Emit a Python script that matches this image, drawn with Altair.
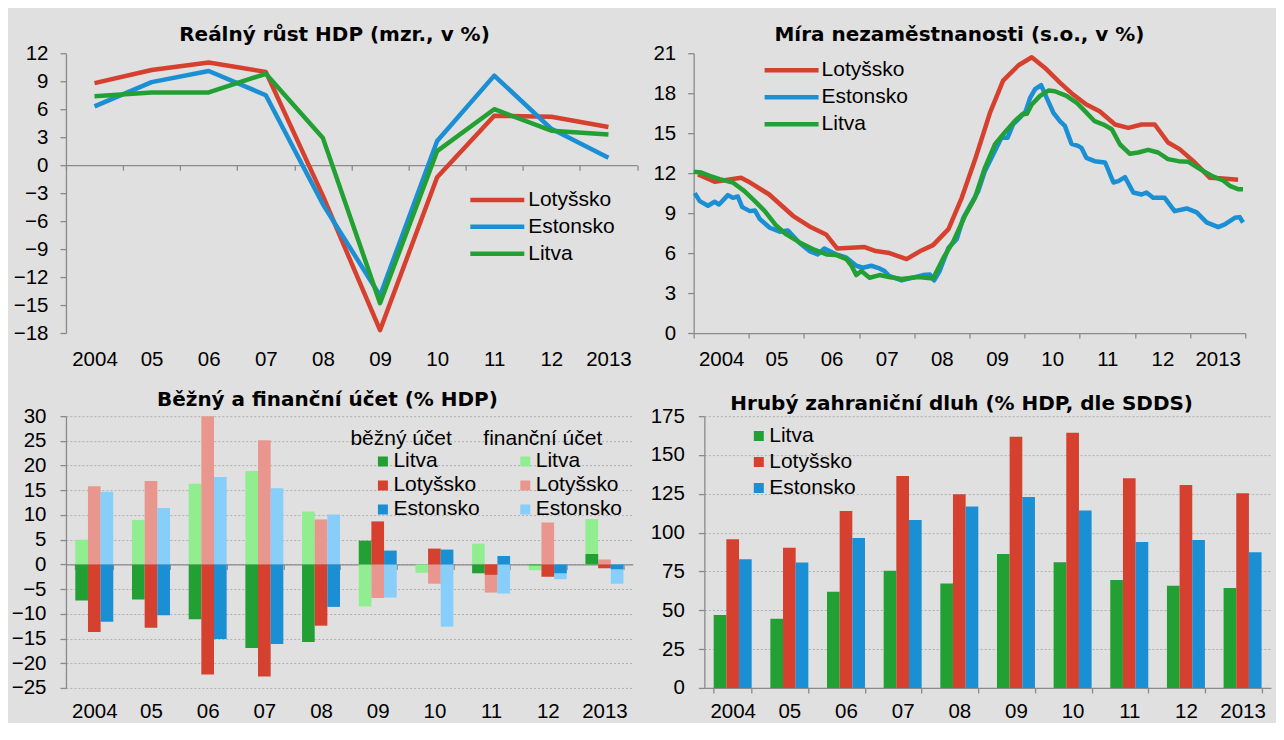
import altair as alt
import pandas as pd

FONT = "Liberation Sans"
TITLE_FONT = "DejaVu Sans"
BG = "#e0e0e0"
AXIS_GRAY = "#8a8a8a"
GRID_GRAY = "#b0b0b0"
LABEL_SIZE = 20.5
LEGEND_SIZE = 21

years = ["2004", "05", "06", "07", "08", "09", "10", "11", "12", "2013"]
line_countries = ["Lotyšsko", "Estonsko", "Litva"]
bar_countries = ["Litva", "Lotyšsko", "Estonsko"]
dark_colors = {"Lotyšsko": "#d5402f", "Estonsko": "#1b8fd4", "Litva": "#22a034"}
light_colors = {"Litva": "#90ee90", "Lotyšsko": "#e9968f", "Estonsko": "#87cefa"}

# --- Reálný růst HDP ---
gdp_lotyssko = [8.8, 10.2, 11.0, 10.0, -3.3, -17.7, -1.3, 5.3, 5.2, 4.1]
gdp_estonsko = [6.3, 8.9, 10.1, 7.5, -4.2, -14.0, 2.6, 9.6, 3.9, 0.8]
gdp_litva = [7.4, 7.8, 7.8, 9.8, 2.9, -14.8, 1.5, 6.0, 3.7, 3.3]

# --- Míra nezaměstnanosti (time in decimal years) ---
une_lotyssko_t = [2004.08, 2004.38, 2004.86, 2004.98, 2005.37, 2005.80, 2006.10, 2006.40, 2006.60,
                  2007.10, 2007.30, 2007.55, 2007.86, 2008.13, 2008.34, 2008.62, 2008.86, 2009.10,
                  2009.37, 2009.61, 2009.89, 2010.13, 2010.37, 2010.64, 2010.85, 2011.12, 2011.36,
                  2011.64, 2011.88, 2012.12, 2012.36, 2012.60, 2012.81, 2013.06, 2013.36, 2013.60,
                  2013.87]
une_lotyssko = [11.9, 11.35, 11.65, 11.4, 10.4, 8.8, 8.0, 7.4, 6.35,
                6.45, 6.15, 6.0, 5.55, 6.2, 6.6, 7.8, 10.15, 13.0,
                16.5, 18.95, 20.1, 20.7, 19.9, 18.8, 18.0, 17.15, 16.65,
                15.65, 15.4, 15.65, 15.65, 14.3, 13.8, 12.9, 11.65, 11.6,
                11.5]
une_estonsko_t = [2004.02, 2004.11, 2004.26, 2004.38, 2004.46, 2004.62, 2004.71, 2004.80, 2004.88,
                  2005.02, 2005.11, 2005.20, 2005.38, 2005.56, 2005.71, 2005.92,
                  2006.10, 2006.25, 2006.37, 2006.59, 2006.77, 2006.95,
                  2007.07, 2007.22, 2007.37, 2007.46, 2007.54, 2007.77,
                  2008.01, 2008.16, 2008.28, 2008.36, 2008.46, 2008.62, 2008.77, 2008.89,
                  2009.01, 2009.16, 2009.28, 2009.43, 2009.58, 2009.69, 2009.79, 2009.91,
                  2010.02, 2010.10, 2010.19, 2010.30, 2010.40, 2010.52, 2010.64, 2010.73, 2010.85, 2010.97,
                  2011.03, 2011.12, 2011.27, 2011.46, 2011.61, 2011.70, 2011.82, 2011.97,
                  2012.12, 2012.21, 2012.33, 2012.54, 2012.72, 2012.94,
                  2013.12, 2013.30, 2013.51, 2013.63, 2013.81, 2013.90, 2013.96]
une_estonsko = [10.5, 9.9, 9.55, 9.85, 9.65, 10.35, 10.15, 10.25, 9.45,
                9.15, 9.2, 8.55, 7.9, 7.6, 7.7, 6.75,
                6.15, 5.9, 6.35, 5.9, 5.65, 5.05,
                4.9, 5.05, 4.85, 4.65, 4.3, 3.95,
                4.2, 4.35, 4.4, 3.95, 4.65, 6.4, 7.05, 8.65,
                9.55, 10.65, 12.15, 13.4, 14.65, 14.65, 15.65, 16.15,
                16.65, 17.65, 18.3, 18.6, 17.65, 16.55, 15.9, 15.55, 14.2, 14.05,
                13.9, 13.15, 12.9, 12.8, 11.3, 11.4, 11.7, 10.55,
                10.4, 10.55, 10.15, 10.15, 9.15, 9.35,
                9.05, 8.3, 7.95, 8.15, 8.65, 8.7, 8.3]
une_litva_t = [2004.00, 2004.14, 2004.29, 2004.47, 2004.71, 2004.92,
               2005.11, 2005.29, 2005.50, 2005.68, 2005.92,
               2006.16, 2006.41, 2006.59, 2006.77, 2006.86, 2006.95,
               2007.04, 2007.19, 2007.37, 2007.54, 2007.77,
               2008.07, 2008.34, 2008.53, 2008.71, 2008.92,
               2009.10, 2009.28, 2009.46, 2009.64, 2009.82, 2009.95,
               2010.04, 2010.13, 2010.28, 2010.43, 2010.55, 2010.76, 2010.94,
               2011.06, 2011.27, 2011.43, 2011.58, 2011.73, 2011.91,
               2012.06, 2012.24, 2012.42, 2012.60, 2012.79, 2012.97,
               2013.18, 2013.39, 2013.60, 2013.72, 2013.87, 2013.96]
une_litva = [12.1, 12.05, 11.8, 11.55, 11.3, 10.65,
             9.9, 9.15, 8.05, 7.4, 6.8,
             6.3, 5.9, 5.85, 5.55, 5.05, 4.35,
             4.65, 4.15, 4.35, 4.2, 4.05,
             4.2, 4.1, 5.65, 6.9, 8.8,
             10.15, 12.4, 14.15, 15.05, 15.9, 16.4,
             16.45, 17.15, 17.8, 18.2, 18.15, 17.8, 17.3,
             16.8, 15.9, 15.65, 15.3, 14.15, 13.45,
             13.55, 13.75, 13.55, 13.05, 12.9, 12.85,
             12.3, 11.8, 11.45, 11.05, 10.8, 10.8]

# --- Běžný a finanční účet ---
ca_litva = [-7.3, -7.1, -11.1, -16.9, -15.7, 4.8, 0.0, -1.8, -0.2, 2.1]
ca_lotyssko = [-13.7, -12.8, -22.3, -22.7, -12.4, 8.7, 3.2, -2.1, -2.5, -0.8]
ca_estonsko = [-11.6, -10.3, -15.1, -16.1, -8.6, 2.8, 3.0, 1.7, -1.8, -1.0]
fa_litva = [5.0, 9.0, 16.3, 18.9, 10.7, -8.5, -1.7, 4.2, -1.2, 9.2]
fa_lotyssko = [15.8, 16.9, 30.3, 25.1, 9.1, -6.8, -3.9, -5.7, 8.5, 1.0]
fa_estonsko = [14.7, 11.4, 17.7, 15.4, 10.1, -6.7, -12.6, -5.9, -3.0, -3.9]

# --- Hrubý zahraniční dluh ---
debt_litva = [47.0, 44.5, 62.0, 75.4, 67.2, 86.2, 81.0, 69.5, 65.8, 64.3]
debt_lotyssko = [95.8, 90.2, 114.0, 136.4, 124.7, 161.8, 164.3, 135.1, 130.7, 125.3]
debt_estonsko = [82.9, 80.8, 96.5, 108.2, 116.9, 123.0, 114.2, 94.0, 95.2, 87.3]

titles = ["Reálný růst HDP (mzr., v %)", "Míra nezaměstnanosti (s.o., v %)",
          "Běžný a finanční účet (% HDP)", "Hrubý zahraniční dluh (% HDP, dle SDDS)"]

# ---------------- data frames ----------------
gdp_rows = []
for c, vals in zip(line_countries, [gdp_lotyssko, gdp_estonsko, gdp_litva]):
    for y, v in zip(years, vals):
        gdp_rows.append({"rok": y, "zeme": c, "hodnota": v})
gdp_df = pd.DataFrame(gdp_rows)

une_rows = []
for c, ts, vals in zip(line_countries, [une_lotyssko_t, une_estonsko_t, une_litva_t],
                       [une_lotyssko, une_estonsko, une_litva]):
    assert len(ts) == len(vals)
    for t, v in zip(ts, vals):
        une_rows.append({"t": t, "zeme": c, "hodnota": v})
une_df = pd.DataFrame(une_rows)

acc_rows = []
for c, cav, fav in zip(bar_countries, [ca_litva, ca_lotyssko, ca_estonsko],
                       [fa_litva, fa_lotyssko, fa_estonsko]):
    for y, a, f in zip(years, cav, fav):
        acc_rows.append({"rok": y, "zeme": c, "ca": a, "fa": f})
acc_df = pd.DataFrame(acc_rows)

debt_rows = []
for c, vals in zip(bar_countries, [debt_litva, debt_lotyssko, debt_estonsko]):
    for y, v in zip(years, vals):
        debt_rows.append({"rok": y, "zeme": c, "hodnota": v})
debt_df = pd.DataFrame(debt_rows)

# ---------------- layout numbers ----------------
W_TL, H_TL = 571.5, 280
W_TR, H_TR = 552, 280
W_BL, H_BL = 567.3, 272
W_BR, H_BR = 567, 272
TICK = 5
GAP_TOP = 17
GAP_BOT = 14


def title(text, offset, dx, dy=0):
    return alt.TitleParams(text=text, font=TITLE_FONT, fontSize=20, fontWeight="bold",
                           color="black", anchor="middle", baseline="alphabetic",
                           offset=offset, dx=dx, dy=dy)


def yaxis(values, extent, grid=False, pad=12):
    return alt.Axis(values=values, title=None, tickSize=6, labelPadding=pad,
                    minExtent=extent, maxExtent=extent, grid=grid,
                    gridDash=[2, 2], gridColor=GRID_GRAY, gridWidth=1,
                    labelFlush=False, labelOverlap=False)


def line_legend(x, y, h, lo):
    return alt.Legend(title=None, orient="none", legendX=x, legendY=y,
                      symbolType="stroke", symbolSize=54 * 54, symbolStrokeWidth=4.5,
                      clipHeight=h, rowPadding=0, labelOffset=lo, padding=0,
                      labelFont=FONT, labelFontSize=LEGEND_SIZE, labelColor="black")


def box_legend(x, y, h, ttl=None, symoff=0):
    kw = dict(orient="none", legendX=x, legendY=y, symbolType="square",
              symbolSize=100, symbolStrokeWidth=0, symbolOpacity=1,
              clipHeight=h, rowPadding=0, labelOffset=0, padding=0,
              labelFont=FONT, labelFontSize=LEGEND_SIZE, labelColor="black",
              symbolOffset=symoff)
    if ttl is None:
        kw["title"] = None
    else:
        kw.update(title=ttl, titleFont=FONT, titleFontSize=LEGEND_SIZE,
                  titleFontWeight="normal", titleColor="black", titlePadding=0,
                  titleAlign="left", titleAnchor="start")
    return alt.Legend(**kw)


# ---------------- top-left: GDP ----------------
tl_dom = [-18, 12]
tl_zero = -H_TL * (0 - tl_dom[0]) / (tl_dom[1] - tl_dom[0])
tl = alt.Chart(gdp_df).mark_line(strokeWidth=4.5, strokeJoin="round").encode(
    x=alt.X("rok:N", sort=years, scale=alt.Scale(type="band", paddingInner=0, paddingOuter=0),
            axis=alt.Axis(title=None, orient="bottom", offset=tl_zero, tickBand="extent",
                          tickSize=TICK, labelPadding=-tl_zero + GAP_TOP - TICK,
                          labelAngle=0, grid=False)),
    y=alt.Y("hodnota:Q", scale=alt.Scale(domain=tl_dom, nice=False, zero=False),
            axis=yaxis(list(range(-18, 13, 3)), 57.3)),
    color=alt.Color("zeme:N", sort=line_countries,
                    scale=alt.Scale(domain=line_countries,
                                    range=[dark_colors[c] for c in line_countries]),
                    legend=line_legend(402.2, 133.5, 26.5, 1.5)),
).properties(width=W_TL, height=H_TL, title=title(titles[0], -17.8, -17))

# ---------------- top-right: unemployment ----------------
yr_ticks = list(range(2004, 2015))
label_expr = " : ".join(
    f"datum.value == {2004 + i} ? '{lab}'" for i, lab in enumerate(years)) + " : ''"
tr = alt.Chart(une_df).mark_line(strokeWidth=4.5, strokeJoin="round").encode(
    x=alt.X("t:Q", scale=alt.Scale(domain=[2004, 2014], nice=False, zero=False),
            axis=alt.Axis(title=None, values=yr_ticks, labelExpr=label_expr,
                          labelOffset=W_TR / 20, tickSize=TICK,
                          labelPadding=GAP_TOP - TICK, labelFlush=False,
                          labelOverlap=False, grid=False)),
    y=alt.Y("hodnota:Q", scale=alt.Scale(domain=[0, 21], nice=False),
            axis=yaxis(list(range(0, 22, 3)), 42)),
    color=alt.Color("zeme:N", sort=line_countries,
                    scale=alt.Scale(domain=line_countries,
                                    range=[dark_colors[c] for c in line_countries]),
                    legend=line_legend(68.5, 3.5, 27, 0.5)),
).properties(width=W_TR, height=H_TR, title=title(titles[1], -17.8, -10))

# ---------------- bottom-left: accounts ----------------
bl_dom = [-25, 30]
bl_zero = -H_BL * (0 - bl_dom[0]) / (bl_dom[1] - bl_dom[0])
bl_x = alt.X("rok:N", sort=years, scale=alt.Scale(paddingInner=0.33, paddingOuter=0.165),
             axis=alt.Axis(title=None, orient="bottom", offset=bl_zero, tickBand="extent",
                           tickSize=TICK, labelPadding=-bl_zero + GAP_BOT - TICK,
                           labelAngle=0, grid=False))
bl_off = alt.XOffset("zeme:N", sort=bar_countries,
                     scale=alt.Scale(domain=bar_countries, paddingInner=0, paddingOuter=0))
bl_yaxis = yaxis(list(range(-25, 31, 5)), 53.3, grid=True, pad=14)
bl_fa = alt.Chart(acc_df).mark_bar(clip=True).encode(
    x=bl_x, xOffset=bl_off,
    y=alt.Y("fa:Q", scale=alt.Scale(domain=bl_dom, nice=False), axis=bl_yaxis),
    color=alt.Color("zeme:N", sort=bar_countries,
                    scale=alt.Scale(domain=bar_countries,
                                    range=[light_colors[c] for c in bar_countries]),
                    legend=box_legend(417.7, 12.3, 24, "finanční účet", 31.5)),
)
bl_ca = alt.Chart(acc_df).mark_bar(clip=True).encode(
    x=bl_x, xOffset=bl_off,
    y=alt.Y("ca:Q", scale=alt.Scale(domain=bl_dom, nice=False), axis=bl_yaxis),
    fill=alt.Fill("zeme:N", sort=bar_countries,
                  scale=alt.Scale(domain=bar_countries,
                                  range=[dark_colors[c] for c in bar_countries]),
                  legend=box_legend(284.7, 12.3, 24, "běžný účet", 22)),
)
bl = alt.layer(bl_fa, bl_ca).resolve_scale(color="independent", fill="independent").properties(
    width=W_BL, height=H_BL, title=title(titles[2], -19.7, -22))

# ---------------- bottom-right: debt ----------------
br = alt.Chart(debt_df).mark_bar().encode(
    x=alt.X("rok:N", sort=years, scale=alt.Scale(paddingInner=0.33, paddingOuter=0.165),
            axis=alt.Axis(title=None, tickBand="extent", tickSize=TICK,
                          labelPadding=GAP_BOT - TICK, labelAngle=0, grid=False)),
    xOffset=alt.XOffset("zeme:N", sort=bar_countries,
                        scale=alt.Scale(domain=bar_countries, paddingInner=0, paddingOuter=0)),
    y=alt.Y("hodnota:Q", scale=alt.Scale(domain=[0, 175], nice=False),
            axis=yaxis(list(range(0, 176, 25)), 55, grid=True, pad=14)),
    color=alt.Color("zeme:N", sort=bar_countries,
                    scale=alt.Scale(domain=bar_countries,
                                    range=[dark_colors[c] for c in bar_countries]),
                    legend=box_legend(44, 6.8, 26)),
).properties(width=W_BR, height=H_BR, title=title(titles[3], -23.7, -26))

top = alt.hconcat(tl, tr, spacing=13.2).resolve_scale(color="independent")
bottom = alt.hconcat(bl, br, spacing=15.9).resolve_scale(color="independent", fill="independent")

chart = alt.vconcat(top, bottom, spacing=18.2).resolve_scale(
    color="independent", fill="independent"
).properties(
    background=BG,
    padding={"left": 0, "top": 16, "right": 3, "bottom": 0},
).configure_view(stroke=None).configure_axis(
    labelFont=FONT, labelFontSize=LABEL_SIZE, labelColor="black",
    domainColor=AXIS_GRAY, tickColor=AXIS_GRAY, domainWidth=1.3, tickWidth=1.3,
    grid=False,
)

chart.save("out.html", embed_options={"renderer": "svg", "actions": False})
